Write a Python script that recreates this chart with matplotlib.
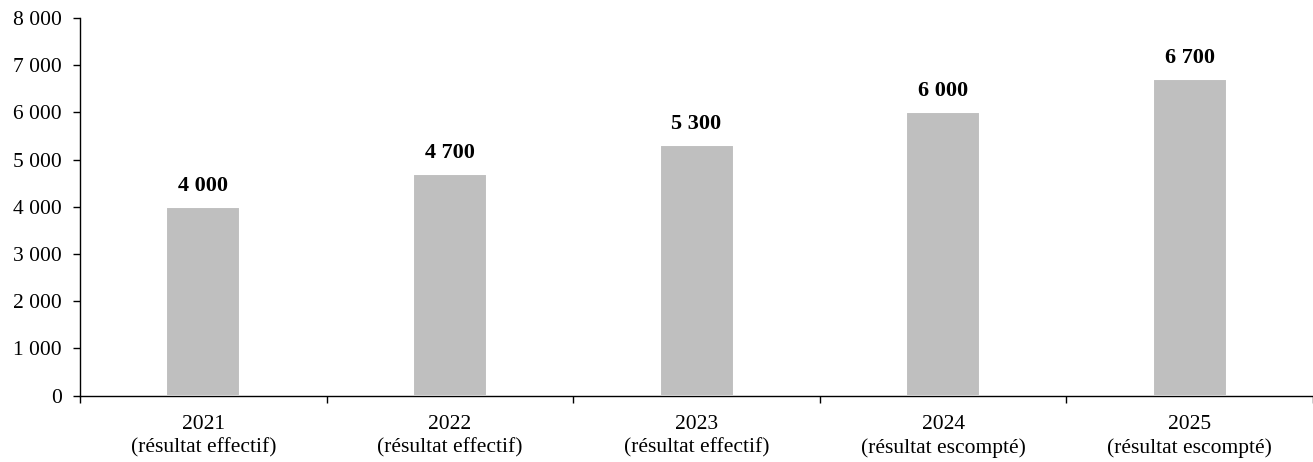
import matplotlib.pyplot as plt
from matplotlib.ticker import FuncFormatter

# données
years = ['2021', '2022', '2023', '2024', '2025']
status = ['(résultat effectif)', '(résultat effectif)', '(résultat effectif)',
          '(résultat escompté)', '(résultat escompté)']
values = [4000, 4700, 5300, 6000, 6700]
y_ticks = [0, 1000, 2000, 3000, 4000, 5000, 6000, 7000, 8000]


def fmt_space(v):
    # séparateur de milliers avec espace
    return f"{int(v):,}".replace(',', ' ')


plt.rcParams['font.family'] = ['Liberation Serif', 'DejaVu Serif']

fig = plt.figure(figsize=(13.13, 4.62), dpi=100)
ax = fig.add_axes([0.061, 0.1435, 0.939, 0.818])

x = list(range(len(values)))
bars = ax.bar(x, values, width=0.3, color='#BFBFBF', edgecolor='white', linewidth=1.5)

for xi, v in zip(x, values):
    ax.annotate(fmt_space(v), (xi, v), xytext=(0, 8), textcoords='offset points',
                ha='center', va='bottom', fontsize=16, fontweight='bold')

ax.set_xlim(-0.5, len(values) - 0.5)
ax.set_ylim(0, 8000)
ax.set_yticks(y_ticks)
ax.yaxis.set_major_formatter(FuncFormatter(lambda v, p: fmt_space(v)))

# graduations entre catégories, étiquettes au centre
ax.set_xticks([i + 0.5 for i in x[:-1]] + [-0.5, len(values) - 0.5])
ax.set_xticklabels([])
ax.set_xticks(x, minor=True)
ax.set_xticklabels([f"{y}\n{s}" for y, s in zip(years, status)], minor=True,
                   fontsize=15.5, linespacing=1.3)
ax.tick_params(axis='x', which='minor', length=0, pad=14)
ax.tick_params(axis='x', which='major', length=5, width=1)
ax.tick_params(axis='y', length=5, width=1, labelsize=15.5, pad=8)

for side in ['top', 'right']:
    ax.spines[side].set_visible(False)
ax.spines['left'].set_linewidth(1)
ax.spines['bottom'].set_linewidth(1)

fig.savefig('out.png', dpi=100)
